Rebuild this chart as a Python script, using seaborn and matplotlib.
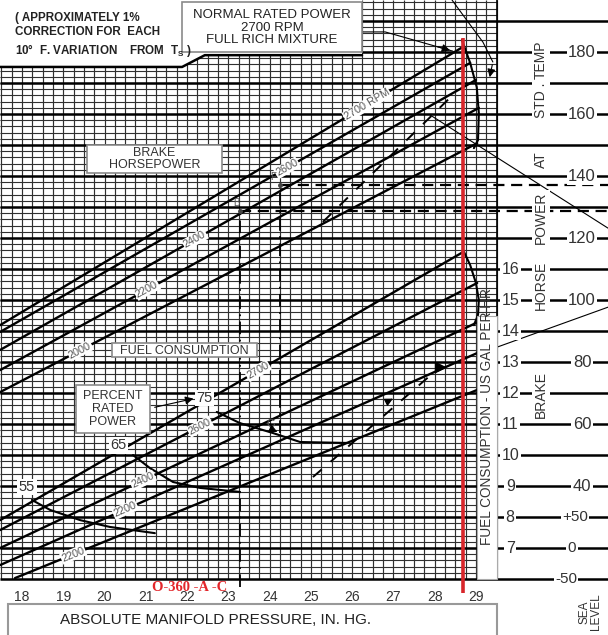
import numpy as np
import pandas as pd
import seaborn as sns
import matplotlib.pyplot as plt
from matplotlib.patches import Rectangle, Polygon

# ---- values (MP in in. Hg, power in BHP, fuel in US gal/hr) ----
bhp_rpm = ["2700", "2600", "2400", "2200", "2000"]
bhp_label = ["2700 RPM", "2600", "2400", "2200", "2000"]
bhp_mp_start = [17.47, 17.47, 17.47, 17.47, 17.47]
bhp_hp_start = [91.9, 89.7, 83.9, 77.4, 70.3]
bhp_mp_end = [28.64, 28.86, 29.00, 29.07, 29.03]
bhp_hp_end = [181.3, 176.5, 171.0, 162.0, 150.6]
bhp_label_mp = [26.36, 24.42, 22.19, 21.03, 19.41]

# full throttle curve, brake horsepower
wot_bhp_mp = [28.66, 28.86, 29.02, 29.07, 29.05, 28.95]
wot_bhp_hp = [183.9, 176.5, 168.7, 160.3, 151.6, 149.0]

fuel_label = ["2700", "2600", "2400", "2200", "2200"]
fuel_mp_start = [17.47, 17.47, 17.47, 17.47, 17.83]
fuel_gal_start = [7.90, 7.58, 7.00, 6.45, 6.03]
fuel_mp_end = [28.69, 29.03, 29.05, 29.03, 29.03]
fuel_gal_end = [16.55, 15.55, 14.29, 13.29, 12.10]
fuel_label_mp = [23.72, 22.31, 20.93, 20.50, 19.24]

# full throttle curve, fuel
wot_fuel_mp = [28.69, 28.86, 29.00, 29.07, 29.05, 28.95]
wot_fuel_gal = [16.61, 16.13, 15.55, 15.00, 14.52, 14.19]

# percent rated power curves
pct_names = ["75", "65", "55"]
pct_mp = [[22.72, 23.28, 24.08, 24.74, 25.88],
          [20.69, 21.10, 21.66, 22.31, 23.28],
          [18.24, 18.68, 19.41, 20.13, 21.22]]
pct_gal = [[11.39, 11.03, 10.71, 10.42, 10.39],
           [10.00, 9.58, 9.13, 8.94, 8.81],
           [8.55, 8.23, 7.90, 7.68, 7.48]]
pct_label_mp = [22.43, 20.33, 18.12]
pct_label_gal = [11.84, 10.32, 8.97]

mp_ticks = [18, 19, 20, 21, 22, 23, 24, 25, 26, 27, 28, 29]
fuel_ticks = [16, 15, 14, 13, 12, 11, 10, 9, 8, 7]
hp_ticks = [180, 160, 140, 120, 100, 80, 60, 40]
temp_ticks = ["+50", "0", "-50"]
temp_hp = [30, 20, 10]

red_mp = 28.69


def gal_to_hp(g):
    # the fuel scale shares the vertical axis: 1 gal/hr = 10 BHP
    return np.asarray(g) * 10 - 50


sns.set_style("white")
plt.rcParams['font.family'] = ['Liberation Sans', 'DejaVu Sans']

fig = plt.figure(figsize=(6.08, 6.35), dpi=100)
ax = fig.add_axes([0, 0, 1, 1])
ax.set_xlim(17.467, 32.2)
ax.set_ylim(-8.06, 196.8)

x_left, x_grid = 17.467, 29.51
y_bot, y_top = 10, 196.8

# graph paper
ax.vlines(np.arange(17.5, 29.51, 0.25), y_bot, y_top, color='#303030', lw=0.85, zorder=1)
ax.hlines(np.arange(12, 197, 2), x_left, x_grid, color='#303030', lw=0.8, zorder=1)
ax.hlines(np.arange(10, 191, 10), x_left, 32.2, color='black', lw=1.8, zorder=2)
ax.vlines(x_grid, y_bot, y_top, color='black', lw=1.2, zorder=2)

# white corner above the grid
ax.add_patch(Polygon([(17.3, 197), (17.3, 175.2), (21.88, 175.2), (22.43, 179.0),
                      (26.24, 179.0), (26.24, 197)], closed=True,
                     facecolor='white', edgecolor='none', zorder=3))
ax.plot([17.467, 21.88, 22.43, 26.24], [175.2, 175.2, 179.0, 179.0], color='black', lw=1.8, zorder=3)

# brake horsepower lines
rows = []
for i in range(len(bhp_rpm)):
    rows.append((i, bhp_mp_start[i], bhp_hp_start[i]))
    rows.append((i, bhp_mp_end[i], bhp_hp_end[i]))
df_bhp = pd.DataFrame(rows, columns=['line', 'mp', 'hp'])
sns.lineplot(data=df_bhp, x='mp', y='hp', units='line', estimator=None, sort=False,
             color='black', lw=1.7, legend=False, ax=ax, zorder=4)
sns.lineplot(x=wot_bhp_mp, y=wot_bhp_hp, sort=False, color='black', lw=1.5, ax=ax, zorder=4)

# fuel lines
rows = []
for i in range(len(fuel_label)):
    rows.append((i, fuel_mp_start[i], gal_to_hp(fuel_gal_start[i])))
    rows.append((i, fuel_mp_end[i], gal_to_hp(fuel_gal_end[i])))
df_fuel = pd.DataFrame(rows, columns=['line', 'mp', 'hp'])
sns.lineplot(data=df_fuel, x='mp', y='hp', units='line', estimator=None, sort=False,
             color='black', lw=1.7, legend=False, ax=ax, zorder=4)
sns.lineplot(x=wot_fuel_mp, y=gal_to_hp(wot_fuel_gal), sort=False, color='black', lw=1.5, ax=ax, zorder=4)

# percent rated power curves
rows = []
for name, xs, gs in zip(pct_names, pct_mp, pct_gal):
    for x, g in zip(xs, gs):
        rows.append((name, x, gal_to_hp(g)))
df_pct = pd.DataFrame(rows, columns=['pct', 'mp', 'hp'])
sns.lineplot(data=df_pct, x='mp', y='hp', units='pct', estimator=None, sort=False,
             color='black', lw=1.5, legend=False, ax=ax, zorder=4)


def line_angle(x0, y0, x1, y1):
    p = ax.transData.transform([[x0, y0], [x1, y1]])
    return np.degrees(np.arctan2(p[1, 1] - p[0, 1], p[1, 0] - p[0, 0]))


lbl_box = dict(facecolor='white', edgecolor='none', pad=0.6)
for i, txt in enumerate(bhp_label):
    xs = [bhp_mp_start[i], bhp_mp_end[i]]
    ys = [bhp_hp_start[i], bhp_hp_end[i]]
    y = np.interp(bhp_label_mp[i], xs, ys)
    ax.text(bhp_label_mp[i], y, txt, rotation=line_angle(xs[0], ys[0], xs[1], ys[1]),
            rotation_mode='anchor', ha='center', va='center', fontsize=7.8,
            color='#555555', bbox=lbl_box, zorder=5)
for i, txt in enumerate(fuel_label):
    xs = [fuel_mp_start[i], fuel_mp_end[i]]
    ys = list(gal_to_hp([fuel_gal_start[i], fuel_gal_end[i]]))
    y = np.interp(fuel_label_mp[i], xs, ys)
    ax.text(fuel_label_mp[i], y, txt, rotation=line_angle(xs[0], ys[0], xs[1], ys[1]),
            rotation_mode='anchor', ha='center', va='center', fontsize=7.8,
            color='#555555', bbox=lbl_box, zorder=5)
for name, x, g in zip(pct_names, pct_label_mp, pct_label_gal):
    ax.text(x, gal_to_hp(g), name, ha='center', va='center', fontsize=10.5,
            color='#333333', bbox=dict(facecolor='white', edgecolor='none', pad=1), zorder=5)

# worked example: dashed paths
dash = (0, (5, 3))
ax.hlines(137.1, 24.25, 32.2, color='black', lw=1.6, linestyles=[dash], zorder=4)
ax.hlines(128.7, 23.28, 32.2, color='black', lw=1.6, linestyles=[dash], zorder=4)
ax.vlines(23.28, 7.4, 128.7, color='black', lw=1.3, linestyles=[(0, (7, 3, 1, 3))], zorder=4)
ax.vlines(24.25, 57.1, 137.1, color='black', lw=1.3, linestyles=[(0, (7, 3, 1, 3))], zorder=4)
ax.plot([25.29, 28.49], [125.2, 166.8], color='black', lw=1.4, ls=(0, (6, 6)), zorder=4)
ax.plot([25.05, 28.13], [42.9, 78.4], color='black', lw=1.4, ls=(0, (6, 6)), zorder=4)
ax.plot([28.13], [78.4], marker='>', color='black', ms=7, zorder=5)
ax.plot([24.25, 23.28], [137.1, 128.7], ls='none', marker='o', ms=2.5, color='#444444', zorder=5)
ax.text(24.08, 139.6, "F", fontsize=7, color='#555555', ha='center', va='center', zorder=5)
ax.text(23.20, 131.2, "B", fontsize=7, color='#555555', ha='center', va='center', zorder=5)
ax.text(24.02, 60.0, "G", fontsize=8, color='#555555', ha='center', va='center', zorder=5)

arrow = dict(arrowstyle='-|>', color='black', lw=0.8, mutation_scale=12)
ax.annotate('', xy=(24.25, 57.1), xytext=(24.05, 58.3), arrowprops=arrow, zorder=5)
ax.annotate('', xy=(27.05, 68.6), xytext=(26.8, 66.9), arrowprops=arrow, zorder=5)

# thin pointer lines
ax.plot([26.26, 26.8, 28.44], [186.5, 186.5, 180.3], color='black', lw=0.8, zorder=4)
ax.annotate('', xy=(28.44, 180.3), xytext=(28.0, 182.0), arrowprops=arrow, zorder=5)
ax.plot([28.42, 28.81, 29.17, 29.41], [196.8, 189.7, 183.2, 176.8], color='black', lw=0.8, zorder=4)
ax.annotate('', xy=(29.32, 171.0), xytext=(29.41, 176.8), arrowprops=arrow, zorder=5)
ax.plot([27.89, 32.2], [159.7, 123.2], color='black', lw=0.8, zorder=4)
ax.plot([29.51, 32.2], [84.8, 97.7], color='black', lw=0.8, zorder=4)
ax.annotate('', xy=(22.22, 68.4), xytext=(21.15, 65.2), arrowprops=arrow, zorder=5)

# boxed captions
box_kw = dict(facecolor='white', edgecolor='#8a8a8a', lw=1.2, zorder=6)
ax.add_patch(Rectangle((21.88, 180.0), 4.36, 16.1, **box_kw))
ax.text(24.06, 187.9, "NORMAL RATED POWER\n2700 RPM\nFULL RICH MIXTURE", ha='center', va='center',
        fontsize=9.5, linespacing=1.1, color='#222222', zorder=7)
ax.add_patch(Rectangle((19.575, 141.0), 3.27, 9.0, **box_kw))
ax.text(21.21, 145.4, "BRAKE\nHORSEPOWER", ha='center', va='center', fontsize=9,
        linespacing=1.0, color='#333333', zorder=7)
ax.add_patch(Rectangle((20.18, 81.6), 3.51, 4.5, **box_kw))
ax.text(21.94, 83.7, "FUEL CONSUMPTION", ha='center', va='center', fontsize=9, color='#333333', zorder=7)
ax.add_patch(Rectangle((19.31, 57.1), 1.79, 15.5, **box_kw))
ax.text(20.2, 64.8, "PERCENT\nRATED\nPOWER", ha='center', va='center', fontsize=9,
        linespacing=1.1, color='#333333', zorder=7)

ax.text(17.83, 193.0, "( APPROXIMATELY 1%\nCORRECTION FOR  EACH\n10°  F. VARIATION    FROM  $\\mathregular{T_S}$ )",
        ha='left', va='top', fontsize=8.4, fontweight='bold', linespacing=1.3,
        family=['Liberation Sans Narrow', 'Liberation Sans', 'DejaVu Sans'], color='#222222', zorder=7)

# fuel scale label strip
ax.add_patch(Rectangle((29.03, 10.0), 0.48, 85.0, facecolor='white', edgecolor='#aaaaaa', lw=0.8, zorder=6))
ax.text(29.27, 62.5, "FUEL CONSUMPTION - US GAL PER HR", rotation=90, ha='center', va='center',
        fontsize=9.8, color='#333333', zorder=7)

# right hand scales
num_box = dict(facecolor='white', edgecolor='none', pad=1.0)
for g in fuel_ticks:
    ax.text(29.83, gal_to_hp(g), str(g), ha='center', va='center', fontsize=11.5,
            color='#333333', bbox=num_box, zorder=7)
for h in hp_ticks:
    ax.text(31.57, h, str(h), ha='center', va='center', fontsize=12,
            color='#333333', bbox=num_box, zorder=7)
for t, h, x in zip(temp_ticks, temp_hp, [31.40, 31.33, 31.18]):
    ax.text(x, h, t, ha='center', va='center', fontsize=11, color='#333333', bbox=num_box, zorder=7)
for word, h in zip(["TEMP", "STD .", "AT", "POWER", "HORSE", "BRAKE"],
                   [177.4, 164.5, 145.2, 126.5, 104.8, 69.4]):
    ax.text(30.58, h, word, rotation=90, ha='center', va='center', fontsize=10,
            color='#333333', bbox=dict(facecolor='white', edgecolor='none', pad=1.5), zorder=7)
ax.text(31.78, -0.6, "SEA\nLEVEL", rotation=90, ha='center', va='center', fontsize=8.5,
        linespacing=0.95, color='#333333', zorder=7)

# manifold pressure scale
for m in mp_ticks:
    ax.text(m, 4.2, str(m), ha='center', va='center', fontsize=10, color='#333333', zorder=7)
ax.text(22.07, 7.2, "O-360 -A -C", ha='center', va='center', fontsize=10.5, fontweight='bold',
        family=['Liberation Serif', 'DejaVu Serif'], color='#e3262b', zorder=9)
ax.add_patch(Rectangle((17.66, -9.0), 11.85, 10.9, facecolor='white', edgecolor='#999999', lw=1.5, zorder=6))
ax.text(22.68, -3.2, "ABSOLUTE MANIFOLD PRESSURE, IN. HG.", ha='center', va='center',
        fontsize=11, color='#222222', zorder=7)

# reading line
ax.vlines(red_mp, 5.5, 184.5, color='#d8262b', lw=2.6, zorder=8)

ax.set_axis_off()
fig.savefig("out.png", dpi=100)
